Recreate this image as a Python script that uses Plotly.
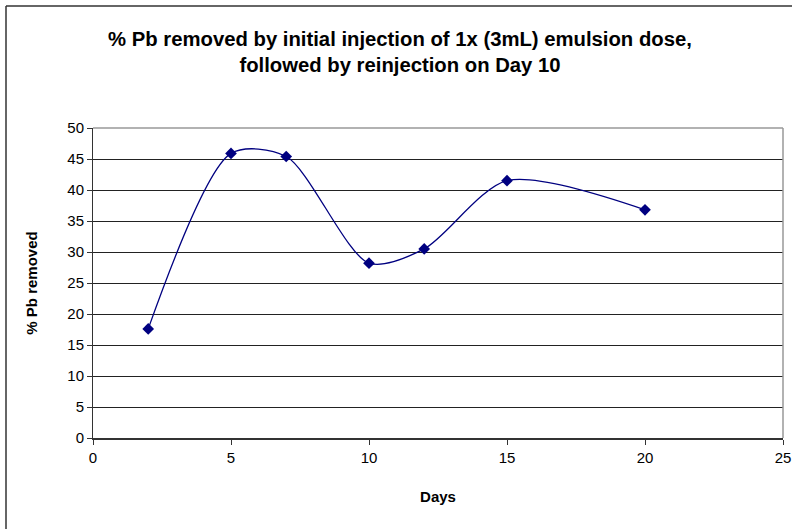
import plotly.graph_objects as go

days = [2, 5, 7, 10, 12, 15, 20]
pb_removed = [17.6, 45.9, 45.4, 28.2, 30.5, 41.5, 36.8]

x_ticks = [0, 5, 10, 15, 20, 25]
y_ticks = [0, 5, 10, 15, 20, 25, 30, 35, 40, 45, 50]

fig = go.Figure()
fig.add_trace(go.Scatter(
    x=days, y=pb_removed, mode="lines+markers",
    line=dict(color="#000080", width=1.3, shape="spline", smoothing=0.8),
    marker=dict(symbol="diamond", size=9, color="#000080"),
    showlegend=False,
))

L, R, T, B = 93, 13, 128, 91
W, H = 796, 529
pw, ph = W - L - R, H - T - B

def px(xp):
    return (xp - L) / pw

def py(yp):
    return (H - B - yp) / ph

fig.update_layout(
    width=W, height=H, autosize=False,
    margin=dict(l=L, r=R, t=T, b=B),
    paper_bgcolor="white", plot_bgcolor="white",
    font=dict(family="Liberation Sans, Arial, sans-serif", size=15, color="black"),
    title=dict(
        text="<b>% Pb removed by initial injection of 1x (3mL) emulsion dose,<br>followed by reinjection on Day 10</b>",
        x=px(400), xref="paper", xanchor="center",
        y=1 - 46 / H, yref="container", yanchor="middle",
        font=dict(size=20.3),
    ),
    xaxis=dict(
        range=[0, 25], tickvals=x_ticks, ticks="outside", ticklen=5,
        tickcolor="#333", showline=True, linecolor="#333", linewidth=1.5,
        showgrid=False, zeroline=False, mirror=False, automargin=False,
        title=dict(text="<b>Days</b>", font=dict(size=15), standoff=27),
        tickfont=dict(size=15),
    ),
    yaxis=dict(
        range=[0, 50], tickvals=y_ticks, ticks="outside", ticklen=5,
        tickcolor="#333", showline=True, linecolor="#333", linewidth=1,
        showgrid=True, gridcolor="#222", gridwidth=1, zeroline=False,
        automargin=False,
        title=dict(text="<b>% Pb removed</b>", font=dict(size=15), standoff=26),
        tickfont=dict(size=15),
    ),
    shapes=[
        dict(type="line", xref="paper", yref="paper", x0=1, x1=1, y0=0, y1=1,
             line=dict(color="#999", width=1.5)),
        dict(type="line", xref="paper", yref="paper", x0=0, x1=1, y0=1, y1=1,
             line=dict(color="#999", width=1.5)),
        dict(type="line", xref="paper", yref="paper", x0=px(6), x1=px(792), y0=py(6), y1=py(6),
             line=dict(color="#333", width=1.5)),
        dict(type="line", xref="paper", yref="paper", x0=px(6), x1=px(6), y0=py(6), y1=py(529),
             line=dict(color="#333", width=1.5)),
    ],
)

fig.write_html(
    "out.html",
    config={"responsive": False, "displayModeBar": False},
    post_script="document.body.style.margin='0';document.body.style.overflow='hidden';",
)
